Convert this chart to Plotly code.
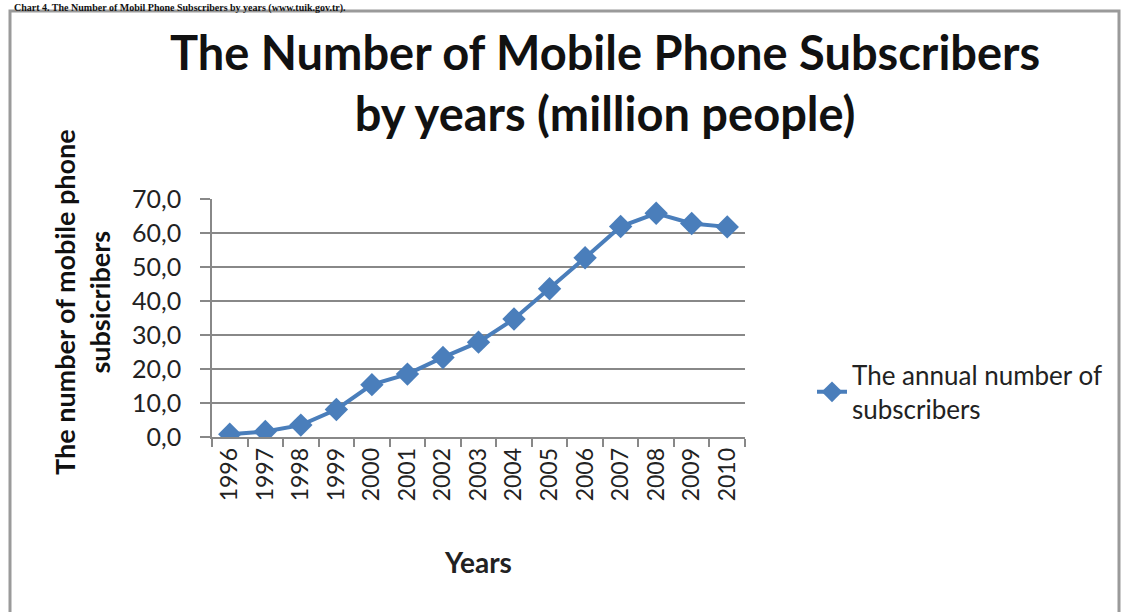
import plotly.graph_objects as go

years = ["1996", "1997", "1998", "1999", "2000", "2001", "2002", "2003",
         "2004", "2005", "2006", "2007", "2008", "2009", "2010"]
subscribers = [0.8, 1.6, 3.5, 8.1, 15.4, 18.5, 23.4, 27.9,
               34.7, 43.6, 52.7, 61.9, 65.8, 62.8, 61.8]
y_ticks = [0, 10, 20, 30, 40, 50, 60, 70]
series_name = "The annual number of<br>subscribers"

W, H = 1122, 612
L, R, T, B = 212, 745, 199, 437  # plot area pixels


def px(x):
    return (x - L) / (R - L)


def py(y):
    return (B - y) / (B - T)


FONT = "Lato, 'Open Sans', sans-serif"
BLUE = "#4a7ebb"
TXT = "#222"

fig = go.Figure()
fig.add_trace(go.Scatter(
    x=years, y=subscribers, mode="lines+markers", name=series_name,
    line=dict(color=BLUE, width=4),
    marker=dict(symbol="diamond", size=18, color=BLUE),
    showlegend=True,
))

fig.update_layout(
    width=W, height=H,
    margin=dict(l=L, r=W - R, t=T, b=H - B, pad=0),
    paper_bgcolor="white", plot_bgcolor="white",
    separators=",.",
    font=dict(family=FONT, color=TXT),
    xaxis=dict(
        type="category", range=[-0.5, 14.5],
        showline=True, linecolor="#888", linewidth=1.5,
        ticks="outside", ticklen=8, tickcolor="#888", tickwidth=1.5,
        tickson="boundaries", tickangle=-90,
        tickfont=dict(size=23, color=TXT),
        showgrid=False,
        title=dict(text="<b>Years</b>", font=dict(size=28, color=TXT), standoff=53),
    ),
    yaxis=dict(
        range=[0, 70], tickvals=y_ticks, tickformat=".1f",
        showline=True, linecolor="#888", linewidth=1.5,
        ticks="outside", ticklen=10, tickcolor="#888", tickwidth=1.5,
        ticklabelstandoff=14,
        showgrid=True, gridcolor="#888", gridwidth=1.5,
        zeroline=False,
        tickfont=dict(size=25, color=TXT),
    ),
    legend=dict(
        x=px(812), y=py(392), xanchor="left", yanchor="middle",
        font=dict(size=26, color=TXT), bgcolor="rgba(0,0,0,0)",
        itemwidth=30,
    ),
    annotations=[
        dict(text="<b>The Number of Mobile Phone Subscribers<br>by years (million people)</b>",
             xref="paper", yref="paper", x=px(605), y=py(82),
             xanchor="center", yanchor="middle", showarrow=False,
             font=dict(family=FONT, size=47, color="#111")),
        dict(text="<b>The number of mobile phone<br>subsicribers</b>",
             xref="paper", yref="paper", x=px(82), y=py(302),
             xanchor="center", yanchor="middle", showarrow=False, textangle=-90,
             font=dict(family=FONT, size=27, color="#111")),
        dict(text="<b>Chart 4. The Number of Mobil Phone Subscribers by years (www.tuik.gov.tr).</b>",
             xref="paper", yref="paper", x=px(12), y=py(0),
             xanchor="left", yanchor="top", showarrow=False,
             font=dict(family="'Liberation Serif', serif", size=10, color="#111")),
    ],
    shapes=[
        dict(type="rect", xref="paper", yref="paper",
             x0=px(10), x1=px(1119), y0=py(625), y1=py(11),
             line=dict(color="#9a9a9a", width=3), fillcolor="rgba(0,0,0,0)", layer="below"),
    ],
)

fig.write_html(
    "out.html",
    config={"displayModeBar": False},
    post_script="document.body.style.margin='0';document.body.style.padding='0';",
)
